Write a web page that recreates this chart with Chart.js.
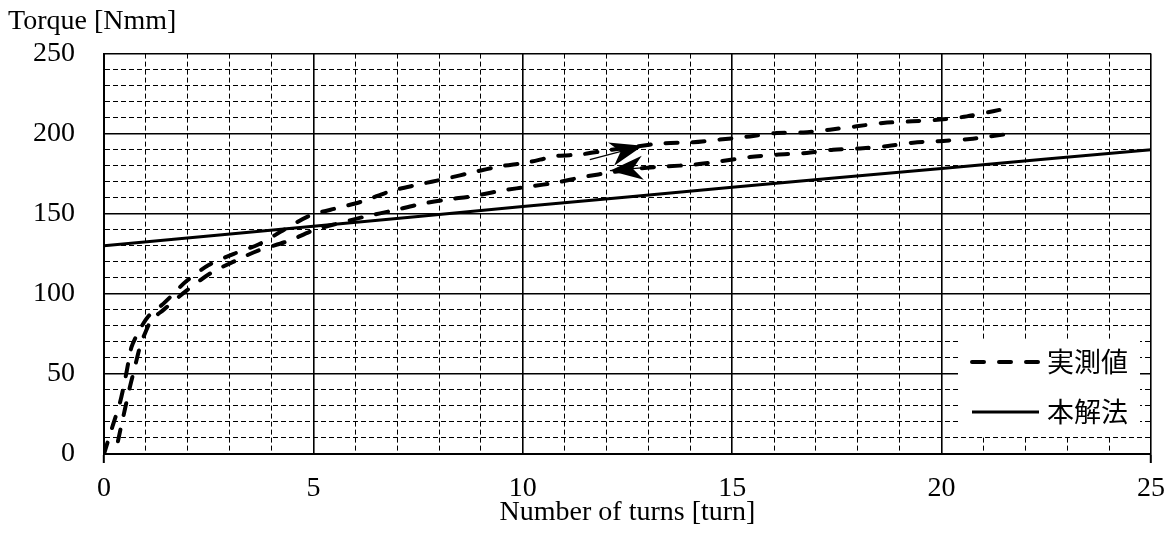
<!DOCTYPE html>
<html>
<head>
<meta charset="utf-8">
<script src="https://cdn.jsdelivr.net/npm/chart.js@4/dist/chart.umd.min.js"></script>
<style>
  html, body { margin: 0; padding: 0; background: #fff; }
  #wrap { width: 1175px; height: 534px; }
</style>
</head>
<body>
<div id="wrap"><canvas id="chart" width="1175" height="534"></canvas></div>
<script>
// measured torque, going out (upper branch)
const loadX = [0, 0.2, 0.38, 0.5, 0.58, 0.66, 0.82, 1.06, 1.38, 1.62, 1.97, 2.5, 3.1, 3.7, 4.3, 4.93,
  5.64, 6.2, 6.83, 7.47, 8.18, 8.82, 9.46, 10.1, 10.8, 11.37, 12.0, 12.7, 13.35, 14.07, 14.7, 15.42,
  16.06, 16.7, 17.33, 17.97, 18.6, 19.3, 19.96, 20.6, 21.23, 21.67];
const loadY = [0, 17, 32, 46, 57, 67, 76, 86, 93, 99, 108, 118, 125, 131, 140, 149,
  154, 158, 164, 168, 172, 176, 179.6, 182, 186, 187, 189.5, 192, 194, 194.6, 196.3, 198.3,
  200.4, 200.8, 202.5, 204.6, 206.7, 207.7, 208.8, 210.8, 214, 216.5];
// measured torque, coming back (lower branch)
const unloadX = [21.47, 20.68, 20.04, 19.32, 18.72, 18.05, 17.41, 16.78, 16.06, 15.42, 14.7, 14.07,
  13.43, 12.8, 12.16, 11.45, 10.8, 10.17, 9.53, 8.82, 8.18, 7.55, 6.9, 6.28, 5.56, 5.0, 4.4, 3.68,
  3.13, 2.55, 1.97, 1.42, 1.14, 0.98, 0.86, 0.74, 0.62, 0.46, 0.34, 0.3];
const unloadY = [199.4, 196.7, 195.5, 194.4, 192.3, 190.8, 190, 188, 186.9, 185.4, 182.7, 180.6,
  179.6, 178.3, 176, 173, 169.5, 167, 164.6, 161, 158.8, 156, 152, 148.5, 143.8, 139.6, 133, 127,
  120.5, 113, 102, 90, 83.8, 75.4, 67, 54.6, 42, 23.3, 8.8, 3];
// this method (solid)
const calcX = [0, 5, 10, 15, 20, 25];
const calcY = [130, 142.2, 154.5, 166.5, 178.3, 190];

const seriesLabels = ['実測値', '本解法'];
const xTickLabels = [0, 5, 10, 15, 20, 25];
const yTickLabels = [0, 50, 100, 150, 200, 250];
// direction arrows on the loop [x, y]
const arrowFrom = [[11.6, 183.8], [12.83, 178.6]];
const arrowTo = [[12.87, 192.5], [12.08, 176.9]];

const serif = "'Liberation Serif', 'Times New Roman', serif";
const cjk = "'Noto Sans CJK JP', sans-serif";

const toPoints = (xs, ys) => xs.map((x, i) => ({ x, y: ys[i] }));
const measured = [
  ...toPoints(loadX, loadY),
  { x: 21.6, y: null },
  ...toPoints(unloadX, unloadY),
];

const isMajor = (ctx, step) => ctx.tick && Math.round(ctx.tick.value) % step === 0;

// arrows drawn along the loop
const loopArrows = {
  id: 'loopArrows',
  afterDatasetsDraw(chart) {
    const { ctx, scales: { x, y } } = chart;
    ctx.save();
    ctx.fillStyle = '#000';
    ctx.strokeStyle = '#000';
    arrowFrom.forEach((from, i) => {
      const x0 = x.getPixelForValue(from[0]);
      const y0 = y.getPixelForValue(from[1]);
      const x1 = x.getPixelForValue(arrowTo[i][0]);
      const y1 = y.getPixelForValue(arrowTo[i][1]);
      const a = Math.atan2(y1 - y0, x1 - x0);
      const len = 33;
      const half = 12;
      ctx.lineWidth = 1.2;
      ctx.beginPath();
      ctx.moveTo(x0, y0);
      ctx.lineTo(x1, y1);
      ctx.stroke();
      const bx = x1 - len * Math.cos(a);
      const by = y1 - len * Math.sin(a);
      const nx = x1 - len * 0.7 * Math.cos(a);
      const ny = y1 - len * 0.7 * Math.sin(a);
      ctx.beginPath();
      ctx.moveTo(x1, y1);
      ctx.lineTo(bx - half * Math.sin(a), by + half * Math.cos(a));
      ctx.lineTo(nx, ny);
      ctx.lineTo(bx + half * Math.sin(a), by - half * Math.cos(a));
      ctx.closePath();
      ctx.fill();
    });
    ctx.restore();
  },
};

// legend box inside the plot, bottom right
const boxLegend = {
  id: 'boxLegend',
  afterDatasetsDraw(chart) {
    const { ctx, chartArea } = chart;
    const w = 182;
    const h = 97;
    const left = chartArea.right - 11 - w;
    const top = chartArea.bottom - 17 - h;
    ctx.save();
    ctx.fillStyle = '#fff';
    ctx.fillRect(left, top, w, h);
    chart.data.datasets.forEach((ds, i) => {
      const cy = top + 22 + i * 50;
      ctx.strokeStyle = '#000';
      ctx.lineWidth = ds.borderWidth;
      ctx.setLineDash(ds.borderDash || []);
      ctx.lineCap = ds.borderCapStyle || 'butt';
      ctx.beginPath();
      ctx.moveTo(left + 14, cy);
      ctx.lineTo(left + 81, cy);
      ctx.stroke();
      ctx.setLineDash([]);
      ctx.fillStyle = '#000';
      ctx.font = `27px ${cjk}`;
      ctx.textBaseline = 'middle';
      ctx.fillText(ds.label, left + 89, cy);
    });
    ctx.restore();
  },
};

new Chart(document.getElementById('chart'), {
  type: 'scatter',
  data: {
    datasets: [
      {
        label: seriesLabels[0],
        data: measured,
        showLine: true,
        spanGaps: false,
        borderColor: '#000',
        borderWidth: 4,
        borderDash: [12, 15],
        borderCapStyle: 'round',
        pointRadius: 0,
        tension: 0.3,
      },
      {
        label: seriesLabels[1],
        data: toPoints(calcX, calcY),
        showLine: true,
        borderColor: '#000',
        borderWidth: 3,
        pointRadius: 0,
        tension: 0.3,
      },
    ],
  },
  options: {
    responsive: false,
    animation: false,
    layout: { padding: { left: 8, right: 24, top: 0, bottom: 0 } },
    plugins: {
      legend: { display: false },
      tooltip: { enabled: false },
      title: {
        display: true,
        text: 'Torque [Nmm]',
        align: 'start',
        color: '#000',
        font: { family: serif, size: 28, weight: 'normal', lineHeight: 1.2 },
        padding: { top: 5, bottom: 15 },
      },
    },
    scales: {
      x: {
        type: 'linear',
        min: 0,
        max: 25,
        afterBuildTicks(scale) {
          scale.ticks = Array.from({ length: 26 }, (_, i) => ({ value: i }));
        },
        afterFit(scale) {
          scale.height = 80;
        },
        ticks: {
          autoSkip: false,
          maxRotation: 0,
          padding: 9,
          color: '#000',
          font: { family: serif, size: 28 },
          callback: (v) => (xTickLabels.includes(v) ? String(v) : ''),
        },
        grid: {
          color: '#000',
          lineWidth: (ctx) => (isMajor(ctx, 5) ? 1.6 : 1),
          drawTicks: true,
          tickLength: 9,
          tickColor: (ctx) => (ctx.tick && (ctx.tick.value === 0 || ctx.tick.value === 25) ? '#000' : 'rgba(0,0,0,0)'),
          tickWidth: 2,
        },
        border: {
          color: '#000',
          width: 2,
          dash: (ctx) => (ctx.tick && !isMajor(ctx, 5) ? [5, 3] : []),
        },
        title: {
          display: true,
          text: 'Number of turns [turn]',
          color: '#000',
          font: { family: serif, size: 28, lineHeight: 1.0 },
          padding: { top: 0, bottom: 7 },
        },
      },
      y: {
        type: 'linear',
        min: 0,
        max: 250,
        afterBuildTicks(scale) {
          scale.ticks = Array.from({ length: 26 }, (_, i) => ({ value: i * 10 }));
        },
        afterFit(scale) {
          scale.width = 96;
        },
        ticks: {
          autoSkip: false,
          padding: 29,
          color: '#000',
          font: { family: serif, size: 28 },
          callback: (v) => (yTickLabels.includes(v) ? String(v) : ''),
        },
        grid: {
          color: '#000',
          lineWidth: (ctx) => (isMajor(ctx, 50) ? 1.6 : 1),
          drawTicks: false,
        },
        border: {
          color: '#000',
          width: 2,
          dash: (ctx) => (ctx.tick && !isMajor(ctx, 50) ? [5, 3] : []),
        },
      },
    },
  },
  plugins: [loopArrows, boxLegend],
});
</script>
</body>
</html>
